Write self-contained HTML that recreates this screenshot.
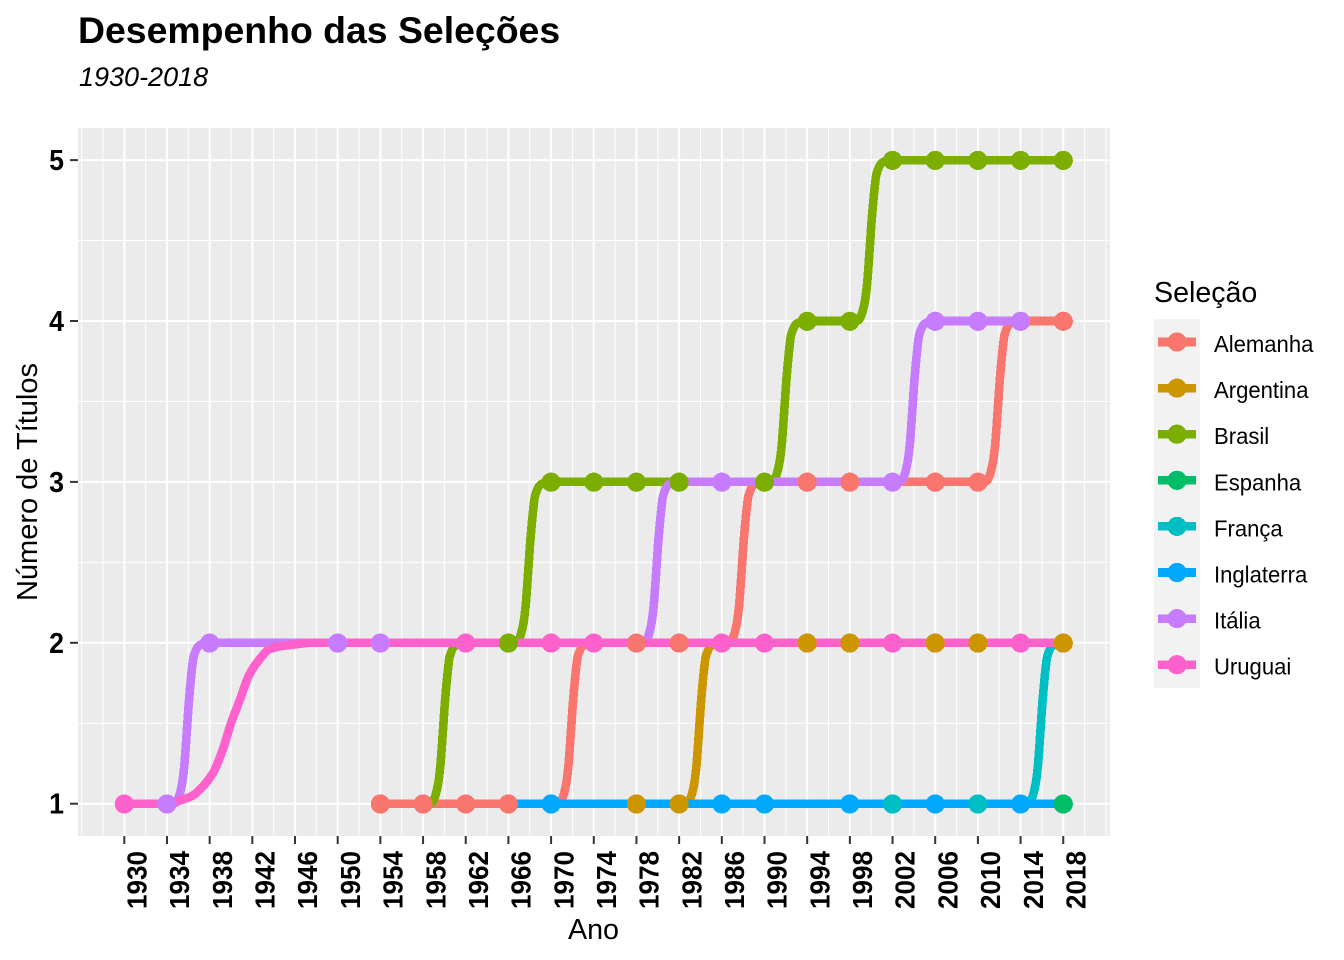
<!DOCTYPE html>
<html lang="pt">
<head>
<meta charset="utf-8">
<title>Desempenho das Seleções</title>
<style>
html,body{margin:0;padding:0;background:#fff;width:1344px;height:960px;overflow:hidden}
svg{display:block;font-family:"Liberation Sans",Arial,sans-serif}
</style>
</head>
<body>
<svg id="chart" xmlns="http://www.w3.org/2000/svg" width="1344" height="960" viewBox="0 0 1344 960">
  <rect x="0" y="0" width="1344" height="960" fill="#fff"/>
  <text x="78" y="43" font-size="37.4" font-weight="bold" fill="#000">Desempenho das Seleções</text>
  <text x="79" y="86" font-size="27" font-style="italic" fill="#000">1930-2018</text>
  <rect x="78" y="128" width="1032" height="708" fill="#EBEBEB"/>
  <g id="grid"></g>
  <g id="lines" shape-rendering="crispEdges"></g>
  <g id="points" shape-rendering="crispEdges"></g>
  <g id="axes"></g>
  <text x="593.5" y="939" font-size="28.7" text-anchor="middle" fill="#000">Ano</text>
  <text transform="translate(37 482) rotate(-90)" font-size="29" text-anchor="middle" fill="#000">Número de Títulos</text>
  <text x="1154" y="302" font-size="28.6" fill="#000">Seleção</text>
  <rect x="1154" y="319" width="46" height="369" fill="#F2F2F2"/>
  <g id="legend"></g>
</svg>
<script>
const teams = ['Alemanha','Argentina','Brasil','Espanha','França','Inglaterra','Itália','Uruguai'];
const teamColors = ['#F8766D','#CD9600','#7CAE00','#00BE67','#00BFC4','#00A9FF','#C77CFF','#FF61CC'];

const xTicks = [1930,1934,1938,1942,1946,1950,1954,1958,1962,1966,1970,1974,1978,1982,1986,1990,1994,1998,2002,2006,2010,2014,2018];
const xMinorTicks = [1926,1928,1932,1936,1940,1944,1948,1952,1956,1960,1964,1968,1972,1976,1980,1984,1988,1992,1996,2000,2004,2008,2012,2016,2020,2022];
const yTicks = [1,2,3,4,5];
const yMinorTicks = [1.5,2.5,3.5,4.5];

const alemanhaYears = [1954,1958,1962,1966,1970,1970.8,1971.1,1971.4,1971.6,1971.88,1972.06,1972.36,1972.48,1972.96,1973.4,1974,1978,1982,1986,1986.8,1987.1,1987.4,1987.6,1987.88,1988.06,1988.36,1988.48,1988.96,1989.4,1990,1994,1998,2002,2006,2010,2010.8,2011.1,2011.4,2011.6,2011.88,2012.06,2012.36,2012.48,2012.96,2013.4,2014,2018];
const alemanhaTitles = [1,1,1,1,1,1.005,1.04,1.12,1.22,1.47,1.64,1.85,1.91,1.98,1.995,2,2,2,2,2.005,2.04,2.12,2.22,2.47,2.64,2.85,2.91,2.98,2.995,3,3,3,3,3,3,3.005,3.04,3.12,3.22,3.47,3.64,3.85,3.91,3.98,3.995,4,4];

const argentinaYears = [1978,1982,1982.8,1983.1,1983.4,1983.6,1983.88,1984.06,1984.36,1984.48,1984.96,1985.4,1986,1990,1994,1998,2002,2006,2010,2014,2018];
const argentinaTitles = [1,1,1.005,1.04,1.12,1.22,1.47,1.64,1.85,1.91,1.98,1.995,2,2,2,2,2,2,2,2,2];

const brasilYears = [1958,1958.8,1959.1,1959.4,1959.6,1959.88,1960.06,1960.36,1960.48,1960.96,1961.4,1962,1966,1966.8,1967.1,1967.4,1967.6,1967.88,1968.06,1968.36,1968.48,1968.96,1969.4,1970,1974,1978,1982,1986,1990,1990.8,1991.1,1991.4,1991.6,1991.88,1992.06,1992.36,1992.48,1992.96,1993.4,1994,1998,1998.8,1999.1,1999.4,1999.6,1999.88,2000.06,2000.36,2000.48,2000.96,2001.4,2002,2006,2010,2014,2018];
const brasilTitles = [1,1.005,1.04,1.12,1.22,1.47,1.64,1.85,1.91,1.98,1.995,2,2,2.005,2.04,2.12,2.22,2.47,2.64,2.85,2.91,2.98,2.995,3,3,3,3,3,3,3.005,3.04,3.12,3.22,3.47,3.64,3.85,3.91,3.98,3.995,4,4,4.005,4.04,4.12,4.22,4.47,4.64,4.85,4.91,4.98,4.995,5,5,5,5,5];

const espanhaYears = [2010,2014,2018];
const espanhaTitles = [1,1,1];

const francaYears = [1998,2002,2006,2010,2014,2014.8,2015.1,2015.4,2015.6,2015.88,2016.06,2016.36,2016.48,2016.96,2017.4,2018];
const francaTitles = [1,1,1,1,1,1.005,1.04,1.12,1.22,1.47,1.64,1.85,1.91,1.98,1.995,2];

const inglaterraYears = [1966,1970,1974,1978,1982,1986,1990,1994,1998,2002,2006,2010,2014,2018];
const inglaterraTitles = [1,1,1,1,1,1,1,1,1,1,1,1,1,1];

const italiaYears = [1934,1934.8,1935.1,1935.4,1935.6,1935.88,1936.06,1936.36,1936.48,1936.96,1937.4,1938,1950,1954,1958,1962,1966,1970,1974,1978,1978.8,1979.1,1979.4,1979.6,1979.88,1980.06,1980.36,1980.48,1980.96,1981.4,1982,1986,1990,1994,1998,2002,2002.8,2003.1,2003.4,2003.6,2003.88,2004.06,2004.36,2004.48,2004.96,2005.4,2006,2010,2014];
const italiaTitles = [1,1.005,1.04,1.12,1.22,1.47,1.64,1.85,1.91,1.98,1.995,2,2,2,2,2,2,2,2,2,2.005,2.04,2.12,2.22,2.47,2.64,2.85,2.91,2.98,2.995,3,3,3,3,3,3,3.005,3.04,3.12,3.22,3.47,3.64,3.85,3.91,3.98,3.995,4,4,4];

const uruguaiYears = [1930,1934,1935.2,1936.4,1937.4,1938.3,1939.2,1940,1940.8,1941.7,1942.7,1943.6,1944.8,1946,1947.5,1950,1954,1958,1962,1966,1970,1974,1978,1982,1986,1990,1994,1998,2002,2006,2010,2014,2018];
const uruguaiTitles = [1,1,1.02,1.05,1.11,1.19,1.33,1.5,1.64,1.8,1.9,1.96,1.98,1.99,2,2,2,2,2,2,2,2,2,2,2,2,2,2,2,2,2,2,2];

const lineYears = [alemanhaYears,argentinaYears,brasilYears,espanhaYears,francaYears,inglaterraYears,italiaYears,uruguaiYears];
const lineTitles = [alemanhaTitles,argentinaTitles,brasilTitles,espanhaTitles,francaTitles,inglaterraTitles,italiaTitles,uruguaiTitles];

const pointYears = [1930,1934,1938,1950,1954,1954,1958,1962,1962,1966,1966,1970,1970,1970,1974,1974,1978,1978,1978,1982,1982,1982,1986,1986,1986,1990,1990,1990,1994,1994,1994,1998,1998,1998,1998,2002,2002,2002,2002,2006,2006,2006,2006,2006,2010,2010,2010,2010,2010,2014,2014,2014,2014,2018,2018,2018,2018];
const pointTitles = [1,1,2,2,2,1,1,2,1,2,1,3,2,1,3,2,3,2,1,3,2,1,3,2,1,3,2,1,4,3,2,4,3,2,1,5,3,2,1,5,4,3,2,1,5,4,3,2,1,5,4,2,1,5,4,2,1];
const pointTeams = [7,6,6,6,6,0,0,7,0,2,0,2,7,5,2,7,2,0,1,2,0,1,6,7,5,2,7,5,2,0,1,2,0,1,5,2,6,7,4,2,6,0,1,5,2,6,0,1,4,2,6,7,5,2,0,1,3];

const NS = 'http://www.w3.org/2000/svg';
function xScale(year){ return 124.3 + (year - 1930) * 10.67; }
function yScale(v){ return 803.7 - (v - 1) * 160.9; }
function make(tag, attrs, parent){
  const el = document.createElementNS(NS, tag);
  for (const k in attrs) el.setAttribute(k, attrs[k]);
  parent.appendChild(el);
  return el;
}
/* monotone cubic path through the sampled values */
function smoothPath(xs, ys){
  const n = xs.length;
  const slopes = [];
  const tangents = [];
  for (let i = 0; i < n - 1; i++) slopes.push((ys[i+1] - ys[i]) / (xs[i+1] - xs[i]));
  tangents.push(slopes[0]);
  for (let i = 1; i < n - 1; i++) {
    if (slopes[i-1] * slopes[i] <= 0) tangents.push(0);
    else tangents.push(2 * slopes[i-1] * slopes[i] / (slopes[i-1] + slopes[i]));
  }
  tangents.push(slopes[n-2]);
  let d = 'M' + xs[0].toFixed(2) + ' ' + ys[0].toFixed(2);
  for (let i = 0; i < n - 1; i++) {
    const h = (xs[i+1] - xs[i]) / 3;
    d += 'C' + (xs[i] + h).toFixed(2) + ' ' + (ys[i] + h * tangents[i]).toFixed(2) + ' ' +
         (xs[i+1] - h).toFixed(2) + ' ' + (ys[i+1] - h * tangents[i+1]).toFixed(2) + ' ' +
         xs[i+1].toFixed(2) + ' ' + ys[i+1].toFixed(2);
  }
  return d;
}

const grid = document.getElementById('grid');
const axes = document.getElementById('axes');
const linesG = document.getElementById('lines');
const pointsG = document.getElementById('points');
const legendG = document.getElementById('legend');

yMinorTicks.forEach(function(v){
  const el = make('line', {x1:78, x2:1110, y1:yScale(v), y2:yScale(v), stroke:'#fff', 'stroke-width':1}, grid);
  
  
});
xMinorTicks.forEach(function(t){
  const el = make('line', {x1:xScale(t), x2:xScale(t), y1:128, y2:836, stroke:'#fff', 'stroke-width':1}, grid);
  
  
});
yTicks.forEach(function(v){
  const el = make('line', {x1:78, x2:1110, y1:yScale(v), y2:yScale(v), stroke:'#fff', 'stroke-width':2}, grid);
  
  
  const tick = make('line', {x1:70, x2:78, y1:yScale(v), y2:yScale(v), stroke:'#333', 'stroke-width':2}, axes);
  
  
  const label = make('text', {transform:'translate(64 ' + (yScale(v)+10) + ') scale(.94 1)', 'text-anchor':'end', 'font-size':28.4, 'font-weight':'bold', fill:'#000'}, axes);
  
  
  label.textContent = String(v);
});
xTicks.forEach(function(t){
  const px = xScale(t);
  const el = make('line', {x1:px, x2:px, y1:128, y2:836, stroke:'#fff', 'stroke-width':2}, grid);
  
  
  const tick = make('line', {x1:px, x2:px, y1:836, y2:844, stroke:'#333', 'stroke-width':2}, axes);
  
  
  const label = make('text', {transform:'translate(' + (px+22.2) + ' 909) rotate(-90)', 'font-size':28, 'font-weight':'bold', fill:'#000', textLength:58, lengthAdjust:'spacingAndGlyphs'}, axes);
  
  
  label.textContent = String(t);
});

teams.forEach(function(team, i){
  const d = smoothPath(lineYears[i].map(xScale), lineTitles[i].map(yScale));
  const el = make('path', {d:d, fill:'none', stroke:teamColors[i], 'stroke-width':8.6, 'stroke-linejoin':'round', 'stroke-linecap':'butt'}, linesG);
  
  
});

pointYears.forEach(function(yr, i){
  const el = make('circle', {cx:xScale(yr), cy:yScale(pointTitles[i])+0.3, r:9.6, fill:teamColors[pointTeams[i]]}, pointsG);
  
  
});

teams.forEach(function(team, i){
  const cy = 342 + i * 46.1;
  const ln = make('line', {x1:1158, x2:1196, y1:cy, y2:cy, stroke:teamColors[i], 'stroke-width':8.6, 'shape-rendering':'crispEdges'}, legendG);
  
  
  const c = make('circle', {cx:1177, cy:cy, r:9.6, fill:teamColors[i], 'shape-rendering':'crispEdges'}, legendG);
  
  
  const t = make('text', {transform:'translate(1214 ' + (cy+10) + ') scale(.96 1)', 'font-size':23, fill:'#000'}, legendG);
  
  
  t.textContent = team;
});
</script>
</body>
</html>
